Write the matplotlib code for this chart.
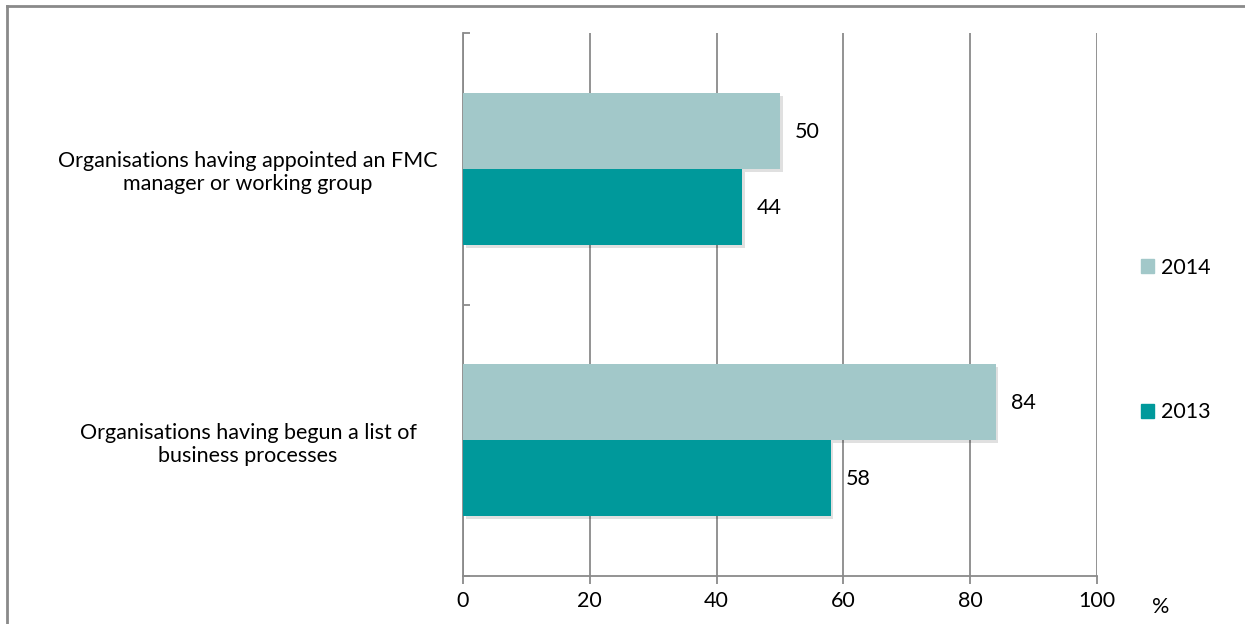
import numpy as np
import matplotlib
matplotlib.use("Agg")
import matplotlib.pyplot as plt
import matplotlib.patheffects as pe
from matplotlib.lines import Line2D

plt.rcParams['font.family'] = ['Lato', 'DejaVu Sans']

# data (bottom category first)
categories = ["Organisations having begun a list of\nbusiness processes",
              "Organisations having appointed an FMC\nmanager or working group"]
vals_2014 = [84, 50]
vals_2013 = [58, 44]
xticks = [0, 20, 40, 60, 80, 100]

c2014 = "#a2c8c9"
c2013 = "#00999b"
gray = "#8a8a8a"
fs = 15.5

fig = plt.figure(figsize=(12.45, 6.24), dpi=100)
ax = fig.add_axes([463/1245, 48/624, 634/1245, 543/624])

y = np.arange(len(categories))
h = 0.28
b14 = ax.barh(y + h/2, vals_2014, height=h, color=c2014, zorder=3, label="2014")
b13 = ax.barh(y - h/2, vals_2013, height=h, color=c2013, zorder=3, label="2013")
shadow = [pe.SimplePatchShadow(offset=(2, -2), shadow_rgbFace="black", alpha=0.12), pe.Normal()]
for p in list(b14) + list(b13):
    p.set_path_effects(shadow)

for bars, vals in ((b14, vals_2014), (b13, vals_2013)):
    for b, v in zip(bars, vals):
        ax.annotate(str(v), (v, b.get_y() + b.get_height()/2), xytext=(15, -1),
                    textcoords="offset pixels", va="center", ha="left", fontsize=fs)

ax.set_xlim(0, 100)
ax.set_ylim(-0.5, len(categories) - 0.5)
ax.set_xticks(xticks)
ax.set_xticklabels([str(t) for t in xticks], fontsize=fs)
ax.set_yticks([-0.5, 0.5, 1.5])
ax.set_yticklabels([])
ax.tick_params(axis="y", direction="in", length=5, width=1.3, color=gray)
ax.tick_params(axis="x", direction="out", length=6, width=1.3, color=gray, pad=5)
ax.xaxis.grid(True, color=gray, linewidth=1.3, zorder=0)
ax.set_axisbelow(True)
for s in ("top", "right"):
    ax.spines[s].set_visible(False)
for s in ("left", "bottom"):
    ax.spines[s].set_color(gray)
    ax.spines[s].set_linewidth(1.3)

trans = matplotlib.transforms.blended_transform_factory(fig.transFigure, ax.transData)
for yi, cat in zip(y, categories):
    ax.text(248/1245, yi - 0.015, cat, transform=trans, ha="center", va="center",
            fontsize=fs, multialignment="center", linespacing=1.2)

fig.text(1161/1245, (624-607)/624, "%", ha="center", va="center", fontsize=fs)

h14 = plt.Rectangle((0, 0), 1, 1, color=c2014)
h13 = plt.Rectangle((0, 0), 1, 1, color=c2013)
fig.legend(handles=[h14, h13], labels=["2014", "2013"], loc="center left",
           bbox_to_anchor=(1122/1245, (624-340)/624), frameon=False, fontsize=fs,
           labelspacing=5.8, handlelength=0.6, handleheight=0.6, handletextpad=0.3)

# outer chart frame (top and left edges visible)
fig.add_artist(Line2D([7/1245, 7/1245], [0, 1 - 6/624], color=gray, linewidth=2))
fig.add_artist(Line2D([7/1245, 1], [1 - 6/624, 1 - 6/624], color=gray, linewidth=2))

fig.savefig("out.png", dpi=100)
